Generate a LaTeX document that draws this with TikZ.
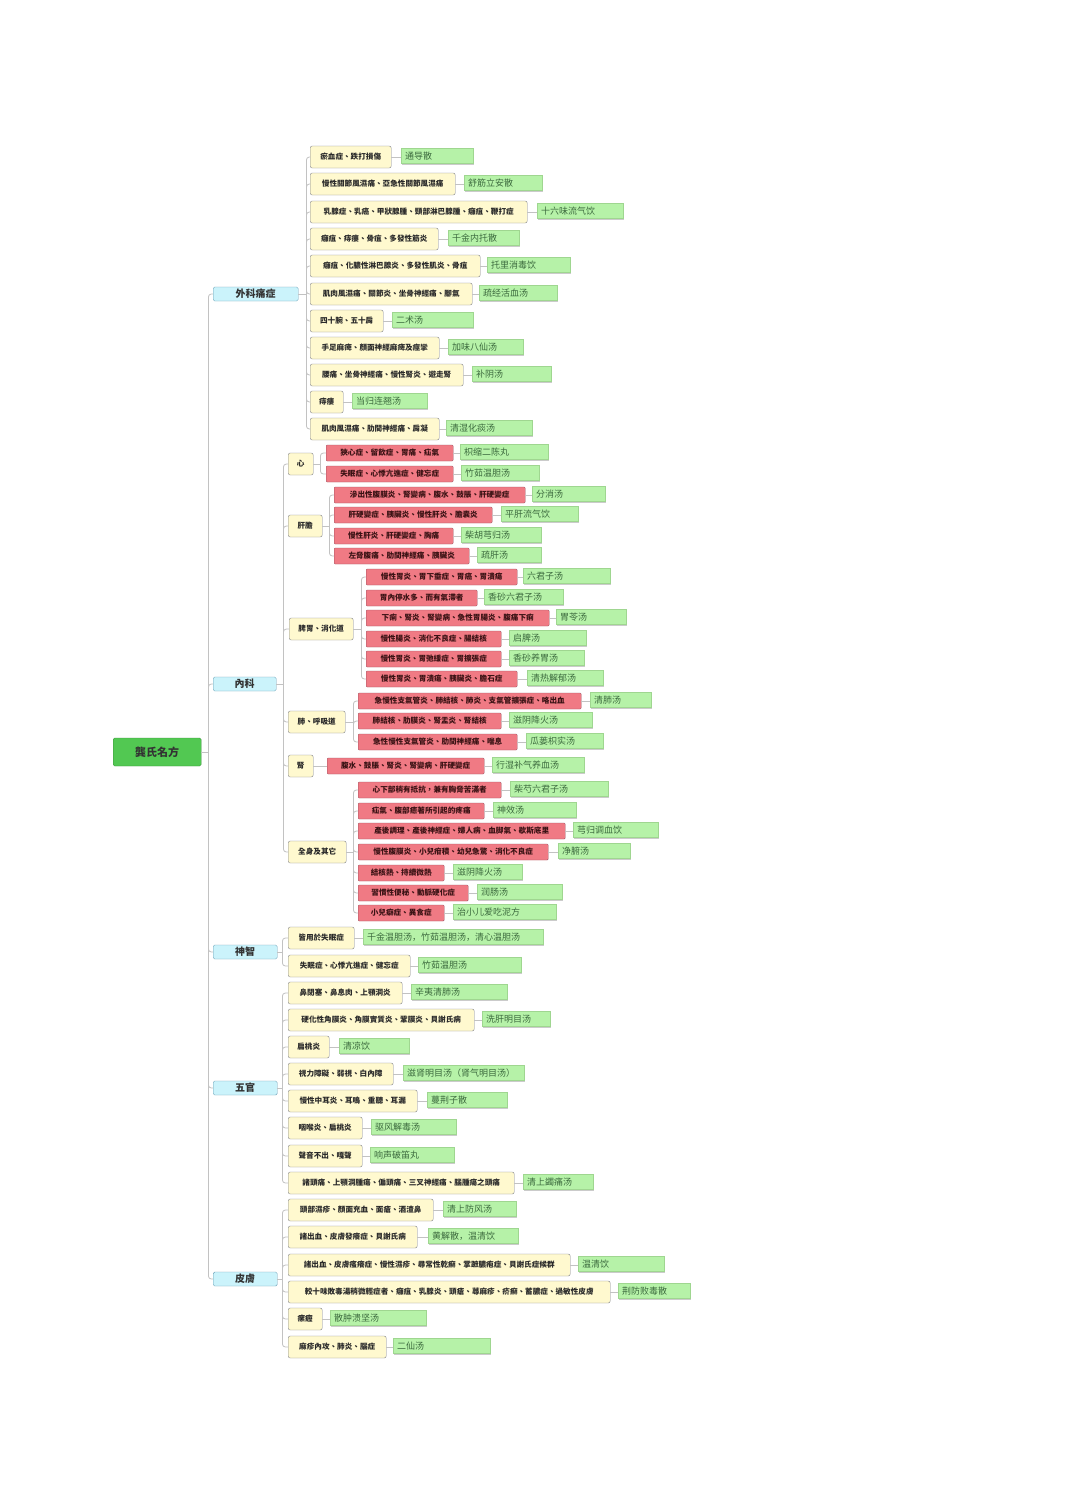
\documentclass[tikz,border=0pt]{standalone}
\usepackage{fontspec}
\newfontfamily\cjktc{Noto Sans CJK TC}
\newfontfamily\cjksc{Noto Sans CJK SC}
\usetikzlibrary{shadows,calc}
\definecolor{lineg}{HTML}{C2C2C2}
\definecolor{rootf}{HTML}{52C852}
\definecolor{rootb}{HTML}{3A8F3A}
\definecolor{catf}{HTML}{CBF3FB}
\definecolor{catb}{HTML}{6C9FB6}
\definecolor{crf}{HTML}{FFF9CF}
\definecolor{crb}{HTML}{85868C}
\definecolor{crt}{HTML}{2A2A2A}
\definecolor{rdf}{HTML}{F07A84}
\definecolor{rdb}{HTML}{9E4F5E}
\definecolor{rdt}{HTML}{3A1214}
\definecolor{grf}{HTML}{B6F2A8}
\definecolor{grb}{HTML}{9FD690}
\definecolor{grt}{HTML}{3C6A3E}
\tikzset{
  ln/.style={draw=lineg, line width=0.8pt},
  rootbox/.style={draw=rootb, fill=rootf, rounded corners=1.5pt, minimum height=28pt, inner sep=0pt,
    font=\cjktc\bfseries\fontsize{11}{12}\selectfont, text=black!80},
  catbox/.style={draw=catb, fill=catf, rounded corners=1.5pt, minimum height=14pt, inner sep=0pt,
    font=\cjktc\bfseries\fontsize{10}{11}\selectfont, text=black!80},
  crbox/.style={draw=crb, fill=crf, rounded corners=2pt, minimum height=22pt, inner sep=0pt,
    font=\cjktc\bfseries\fontsize{7.6}{8}\selectfont, text=crt},
  rdbox/.style={draw=rdb, fill=rdf, rounded corners=1pt, minimum height=16pt, inner sep=0pt,
    font=\cjktc\bfseries\fontsize{7.6}{8}\selectfont, text=rdt},
  rx/.style={draw=grb, fill=grf, minimum height=15pt, inner xsep=4pt, inner ysep=0pt,
    font=\cjksc\fontsize{9}{10}\selectfont, text=grt,
    drop shadow={shadow xshift=1.2pt, shadow yshift=-1.5pt, fill=black!45, opacity=.45}},
}
% #1 name, #2 style, #3 x1, #4 x2, #5 y, #6 text, #7 gx1, #8 gx2, #9 gtext
\newcommand\DZ[9]{%
  \pgfmathsetmacro\bw{#4-#3}%
  \pgfmathsetmacro\gw{#8-#7-8}%
  \node[#2, anchor=west, minimum width=\bw pt] (#1) at (#3,#5) {#6};
  \node[rx, anchor=west, text width=\gw pt, align=left] (#1r) at (#7,#5-1) {#9};
  \draw[ln] (#1.east) -- (#1.east -| #1r.west);
}
% box node: #1 name, #2 style, #3 x1, #4 x2, #5 y, #6 text
\newcommand\BX[6]{%
  \pgfmathsetmacro\bw{#4-#3}%
  \node[#2, anchor=west, minimum width=\bw pt] (#1) at (#3,#5) {#6};
}
\newcommand\JN[2]{\draw[ln] (#1.east) -- ++(#2,0) coordinate (#1j);}
\newcommand\BR[2]{\draw[ln, rounded corners=3pt] (#1j) |- (#2.west);}
\begin{document}
\begin{tikzpicture}[x=1pt, y=-1pt]
\useasboundingbox[fill=white] (0,0) rectangle (1080,1504);

% root and categories
\BX{root}{rootbox}{113}{201}{752}{龔氏名方}
\BX{wk}{catbox}{213}{298}{294}{外科痛症}
\BX{nk}{catbox}{213}{276}{684}{內科}
\BX{sz}{catbox}{213}{277}{952}{神智}
\BX{wg}{catbox}{213}{277}{1088}{五官}
\BX{pf}{catbox}{213}{277}{1279}{皮膚}
\JN{root}{7}
\BR{root}{wk}\BR{root}{nk}\BR{root}{sz}\BR{root}{wg}\BR{root}{pf}

% 外科痛症
\DZ{w1}{crbox}{310}{391}{157}{瘀血症、跌打損傷}{401}{473}{通导散}
\DZ{w2}{crbox}{310}{455}{184}{慢性關節風濕痛、亞急性關節風濕痛}{464}{542}{舒筋立安散}
\DZ{w3}{crbox}{310}{527}{212}{乳腺症、乳癌、甲狀腺腫、頸部淋巴腺腫、癰疽、鞭打症}{537}{623}{十六味流气饮}
\DZ{w4}{crbox}{310}{438}{239}{癰疽、痔瘻、骨疽、多發性筋炎}{448}{519}{千金内托散}
\DZ{w5}{crbox}{310}{480}{266}{癰疽、化膿性淋巴腺炎、多發性肌炎、骨疽}{487}{570}{托里消毒饮}
\DZ{w6}{crbox}{310}{472}{294}{肌肉風濕痛、關節炎、坐骨神經痛、腳氣}{479}{557}{疏经活血汤}
\DZ{w7}{crbox}{310}{383}{321}{四十腕、五十肩}{392}{473}{二术汤}
\DZ{w8}{crbox}{310}{439}{348}{手足麻痺、顏面神經麻痺及痙攣}{448}{523}{加味八仙汤}
\DZ{w9}{crbox}{310}{463}{375}{腰痛、坐骨神經痛、慢性腎炎、遊走腎}{472}{551}{补阴汤}
\DZ{w10}{crbox}{310}{343}{402}{痔瘻}{352}{427}{当归连翘汤}
\DZ{w11}{crbox}{310}{439}{429}{肌肉風濕痛、肋間神經痛、肩凝}{446}{532}{清湿化痰汤}
\JN{wk}{8}
\foreach \c in {w1,w2,w3,w4,w5,w6,w7,w8,w9,w10,w11}{\BR{wk}{\c}}

% 內科
\BX{xin}{crbox}{288}{313}{464}{心}
\BX{gd}{crbox}{288}{322}{526}{肝膽}
\BX{pw}{crbox}{289}{353}{629}{脾胃、消化道}
\BX{fei}{crbox}{288}{345}{722}{肺、呼吸道}
\BX{shen}{crbox}{288}{313}{766}{腎}
\BX{qs}{crbox}{288}{346}{852}{全身及其它}
\JN{nk}{7}
\foreach \c in {xin,gd,pw,fei,shen,qs}{\BR{nk}{\c}}

\DZ{x1}{rdbox}{326}{453}{453}{狹心症、留飲症、胃痛、疝氣}{460}{548}{枳缩二陈丸}
\DZ{x2}{rdbox}{326}{453}{474}{失眠症、心悸亢進症、健忘症}{461}{539}{竹茹温胆汤}
\JN{xin}{7}
\BR{xin}{x1}\BR{xin}{x2}

\DZ{gd1}{rdbox}{334}{525}{495}{滲出性腹膜炎、腎變病、腹水、鼓脹、肝硬變症}{532}{605}{分消汤}
\DZ{gd2}{rdbox}{334}{492}{515}{肝硬變症、胰臟炎、慢性肝炎、膽囊炎}{501}{578}{平肝流气饮}
\DZ{gd3}{rdbox}{334}{453}{536}{慢性肝炎、肝硬變症、胸痛}{461}{541}{柴胡芎归汤}
\DZ{gd4}{rdbox}{334}{469}{556}{左脅腹痛、肋間神經痛、胰臟炎}{477}{541}{疏肝汤}
\JN{gd}{7}
\foreach \c in {gd1,gd2,gd3,gd4}{\BR{gd}{\c}}

\DZ{pw1}{rdbox}{366}{517}{577}{慢性胃炎、胃下垂症、胃癌、胃潰瘍}{523}{610}{六君子汤}
\DZ{pw2}{rdbox}{366}{477}{598}{胃內停水多、而有氣滯者}{484}{563}{香砂六君子汤}
\DZ{pw3}{rdbox}{366}{549}{618}{下痢、腎炎、腎變病、急性胃腸炎、腹痛下痢}{556}{626}{胃苓汤}
\DZ{pw4}{rdbox}{366}{501}{639}{慢性腸炎、消化不良症、腸結核}{509}{586}{启脾汤}
\DZ{pw5}{rdbox}{366}{501}{659}{慢性胃炎、胃弛緩症、胃擴張症}{509}{584}{香砂养胃汤}
\DZ{pw6}{rdbox}{366}{517}{679}{慢性胃炎、胃潰瘍、胰臟炎、膽石症}{527}{603}{清热解郁汤}
\JN{pw}{8}
\foreach \c in {pw1,pw2,pw3,pw4,pw5,pw6}{\BR{pw}{\c}}

\DZ{fe1}{rdbox}{358}{581}{701}{急慢性支氣管炎、肺結核、肺炎、支氣管擴張症、咯出血}{590}{651}{清肺汤}
\DZ{fe2}{rdbox}{358}{501}{721}{肺結核、肋膜炎、腎盂炎、腎結核}{509}{592}{滋阴降火汤}
\DZ{fe3}{rdbox}{358}{517}{742}{急性慢性支氣管炎、肋間神經痛、喘息}{526}{603}{瓜蒌枳实汤}
\JN{fei}{8}
\foreach \c in {fe1,fe2,fe3}{\BR{fei}{\c}}

\DZ{sh1}{rdbox}{327}{484}{766}{腹水、鼓脹、腎炎、腎變病、肝硬變症}{492}{584}{行湿补气养血汤}
\draw[ln] (shen.east) -- (shen.east -| sh1.west);

\DZ{qs1}{rdbox}{358}{501}{790}{心下部稍有抵抗，兼有胸脅苦滿者}{510}{608}{柴芍六君子汤}
\DZ{qs2}{rdbox}{358}{484}{811}{疝氣、腹部癒著所引起的疼痛}{493}{576}{神效汤}
\DZ{qs3}{rdbox}{358}{565}{831}{產後調理、產後神經症、婦人病、血脚氣、歇斯底里}{573}{658}{芎归调血饮}
\DZ{qs4}{rdbox}{358}{548}{852}{慢性腹膜炎、小兒疳積、幼兒急驚、消化不良症}{558}{630}{净腑汤}
\DZ{qs5}{rdbox}{358}{444}{873}{結核熱、持續微熱}{453}{522}{滋阴降火汤}
\DZ{qs6}{rdbox}{358}{468}{893}{習慣性便秘、動脈硬化症}{477}{562}{润肠汤}
\DZ{qs7}{rdbox}{358}{444}{913}{小兒癖症、異食症}{453}{556}{治小儿爱吃泥方}
\JN{qs}{7}
\foreach \c in {qs1,qs2,qs3,qs4,qs5,qs6,qs7}{\BR{qs}{\c}}

% 神智
\DZ{sz1}{crbox}{288}{354}{938}{皆用於失眠症}{363}{543}{千金温胆汤，竹茹温胆汤，清心温胆汤}
\DZ{sz2}{crbox}{288}{410}{966}{失眠症、心悸亢進症、健忘症}{418}{521}{竹茹温胆汤}
\JN{sz}{5}
\BR{sz}{sz1}\BR{sz}{sz2}

% 五官
\DZ{wg1}{crbox}{288}{402}{993}{鼻閉塞、鼻息肉、上顎洞炎}{411}{507}{辛夷清肺汤}
\DZ{wg2}{crbox}{288}{474}{1020}{硬化性角膜炎、角膜實質炎、鞏膜炎、貝謝氏病}{482}{550}{洗肝明目汤}
\DZ{wg3}{crbox}{288}{329}{1047}{扁桃炎}{339}{409}{清凉饮}
\DZ{wg4}{crbox}{288}{393}{1074}{視力障礙、弱視、白內障}{403}{524}{滋肾明目汤（肾气明目汤）}
\DZ{wg5}{crbox}{288}{417}{1101}{慢性中耳炎、耳鳴、重聽、耳漏}{427}{507}{蔓荆子散}
\DZ{wg6}{crbox}{288}{362}{1128}{咽喉炎、扁桃炎}{371}{456}{驱风解毒汤}
\DZ{wg7}{crbox}{288}{362}{1156}{聲音不出、嘎聲}{370}{454}{响声破笛丸}
\DZ{wg8}{crbox}{288}{514}{1183}{諸頭痛、上顎洞腫瘍、偏頭痛、三叉神經痛、腦腫瘍之頭痛}{523}{593}{清上蠲痛汤}
\JN{wg}{5}
\foreach \c in {wg1,wg2,wg3,wg4,wg5,wg6,wg7,wg8}{\BR{wg}{\c}}

% 皮膚
\DZ{pf1}{crbox}{288}{433}{1210}{頭部濕疹、顏面充血、面瘡、酒渣鼻}{443}{516}{清上防风汤}
\DZ{pf2}{crbox}{288}{417}{1237}{諸出血、皮膚發癢症、貝謝氏病}{428}{518}{黄解散，温清饮}
\DZ{pf3}{crbox}{288}{570}{1265}{諸出血、皮膚瘙癢症、慢性濕疹、尋常性乾癬、掌蹠膿疱症、貝謝氏症候群}{578}{664}{温清饮}
\DZ{pf4}{crbox}{288}{610}{1292}{較十味敗毒湯稍微輕症者、癰疽、乳腺炎、頭瘡、蕁麻疹、疥癬、蓄膿症、過敏性皮膚}{618}{690}{荆防败毒散}
\DZ{pf5}{crbox}{288}{322}{1319}{瘰癧}{330}{426}{散肿溃坚汤}
\DZ{pf6}{crbox}{288}{386}{1347}{麻疹內攻、肺炎、腦症}{393}{490}{二仙汤}
\JN{pf}{5}
\foreach \c in {pf1,pf2,pf3,pf4,pf5,pf6}{\BR{pf}{\c}}
\end{tikzpicture}
\end{document}
